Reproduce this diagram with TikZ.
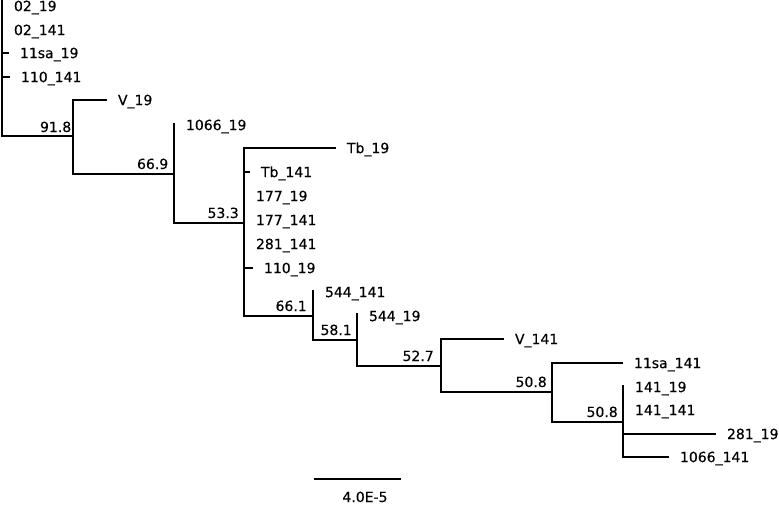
\documentclass[tikz,border=0pt]{standalone}
\usepackage{fontspec}
\setmainfont{DejaVu Sans}[FakeBold=0.4]
\begin{document}
\begin{tikzpicture}[x=0.75pt,y=-0.75pt,
  br/.style={line width=1.5pt,line cap=rect},
  tiplab/.style={anchor=west,inner xsep=8.8pt,inner ysep=0pt,text height=7.6pt,text depth=0pt,font=\fontsize{10.5}{12}\selectfont},
  boot/.style={anchor=base east,inner sep=0pt,font=\fontsize{10.5}{12}\selectfont},
  scalebar/.style={line width=2.2pt}]
\useasboundingbox (0,0) rectangle (779,504);
% internal nodes (top of each vertical)
\coordinate (R) at (2,0);
\coordinate (N1) at (73,100);
\coordinate (N2) at (174,124);
\coordinate (N3) at (244,148);
\coordinate (N4) at (313,291);
\coordinate (N5) at (357,314);
\coordinate (N6) at (441,339);
\coordinate (N7) at (552,363);
\coordinate (N8) at (623,386);
% clade anchors (where each clade joins its parent)
\coordinate (C1) at (73,136);
\coordinate (C2) at (174,174);
\coordinate (C3) at (244,223);
\coordinate (C4) at (313,316);
\coordinate (C5) at (357,340);
\coordinate (C6) at (441,366);
\coordinate (C7) at (552,392);
\coordinate (C8) at (623,422);
% tips
\node[tiplab] (t1) at (2,6) {02\_19};
\node[tiplab] (t2) at (2,30) {02\_141};
\node[tiplab] (t3) at (8,53) {11sa\_19};
\node[tiplab] (t4) at (9,77) {110\_141};
\node[tiplab] (t5) at (106,100) {V\_19};
\node[tiplab] (t6) at (174,125) {1066\_19};
\node[tiplab] (t7) at (335,148) {Tb\_19};
\node[tiplab] (t8) at (249,172) {Tb\_141};
\node[tiplab] (t9) at (244,196) {177\_19};
\node[tiplab] (t10) at (244,220) {177\_141};
\node[tiplab] (t11) at (244,244) {281\_141};
\node[tiplab] (t12) at (252,268) {110\_19};
\node[tiplab] (t13) at (313,292) {544\_141};
\node[tiplab] (t14) at (357,316) {544\_19};
\node[tiplab] (t15) at (503,339) {V\_141};
\node[tiplab] (t16) at (622,363) {11sa\_141};
\node[tiplab] (t17) at (623,387) {141\_19};
\node[tiplab] (t18) at (623,410) {141\_141};
\node[tiplab] (t19) at (715,434) {281\_19};
\node[tiplab] (t20) at (668,457) {1066\_141};
% branches
\draw[br] (C1) -| (R);
\draw[br] (t3.west) -| (R);
\draw[br] (t4.west) -| (R);
\draw[br] (C2) -| (N1);
\draw[br] (t5.west) -| (N1);
\draw[br] (C3) -| (N2);
\draw[br] (C4) -| (N3);
\draw[br] (t7.west) -| (N3);
\draw[br] (t8.west) -| (N3);
\draw[br] (t12.west) -| (N3);
\draw[br] (C5) -| (N4);
\draw[br] (C6) -| (N5);
\draw[br] (C7) -| (N6);
\draw[br] (t15.west) -| (N6);
\draw[br] (C8) -| (N7);
\draw[br] (t16.west) -| (N7);
\draw[br] (t20.west) -| (N8);
\draw[br] (t19.west) -| (N8);
% support values
\node[boot] (b1) at (71.5,132) {91.8};
\node[boot] (b2) at (168.5,169) {66.9};
\node[boot] (b3) at (239,218) {53.3};
\node[boot] (b4) at (307,311) {66.1};
\node[boot] (b5) at (352,335) {58.1};
\node[boot] (b6) at (434,361) {52.7};
\node[boot] (b7) at (547,387) {50.8};
\node[boot] (b8) at (618,417) {50.8};
% scale bar
\coordinate (s1) at (314,479);
\coordinate (s2) at (401,479);
\draw[scalebar] (s1) -- (s2);
\node[font=\fontsize{10.5}{12}\selectfont,anchor=base,inner sep=0pt] (sl) at (365,502) {4.0E-5};
\end{tikzpicture}
\end{document}
